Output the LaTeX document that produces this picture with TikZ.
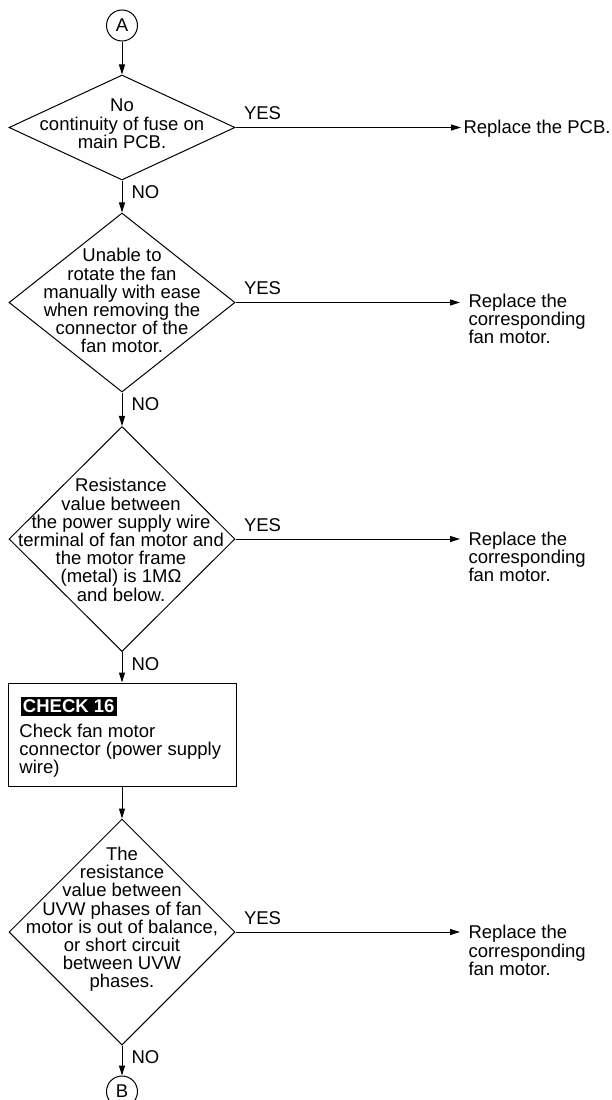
\documentclass[tikz,border=0pt]{standalone}
\usepackage{fontspec}
\setmainfont{Liberation Sans}
\usetikzlibrary{arrows.meta,shapes.geometric,positioning}

\begin{document}
\begin{tikzpicture}[x=1pt,y=-1pt,line width=1pt,
  txt/.style={font=\fontsize{18.5}{18.2}\selectfont,inner sep=0pt},
  dia/.style={draw,shape=diamond,minimum width=226pt,inner sep=0pt},
  conn/.style={draw,circle,minimum size=31pt,inner sep=0pt,font=\fontsize{18.5}{18.2}\selectfont},
  flow/.style={-{Triangle[length=10pt,width=6pt]}}]
  \useasboundingbox (0,0) rectangle (612,1100);

  \node[conn] (A) at (122,25.5) {A};
  \node[dia,minimum height=105pt] (d1) at (122,127.5) {};
  \node[dia,minimum height=179pt] (d2) at (122,302.5) {};
  \node[dia,minimum height=225pt] (d3) at (122,539) {};
  \node[draw,minimum width=228pt,minimum height=103pt,inner sep=0pt] (chk) at (122,734.5) {};
  \node[dia,minimum height=226pt] (d4) at (122,932) {};
  \node[conn] (B) at (122,1091.5) {B};

  \node[txt,align=center,anchor=north] (t1) at (122,98.6) {No\\continuity of fuse on\\main PCB.};
  \node[txt,align=center,anchor=north] (t2) at (122,248) {Unable to\\rotate the fan\\manually with ease\\when removing the\\connector of the\\fan motor.};
  \node[txt,align=center,anchor=north] (t3) at (121,478) {Resistance\\value between\\the power supply wire\\terminal of fan motor and\\the motor frame\\(metal) is 1MΩ\\and below.};
  \node[txt,align=center,anchor=north] (t4) at (122,846.5) {The\\resistance\\value between\\UVW phases of fan\\motor is out of balance,\\or short circuit\\between UVW\\phases.};

  \node[txt,fill=black,text=white,font=\fontsize{18.5}{18.2}\selectfont\bfseries,inner xsep=2.5pt,inner ysep=3pt,anchor=north west] (tag) at (20,696) {CHECK 16};
  \node[txt,align=left,anchor=north west] (chktxt) at (19,723.6) {Check fan motor\\connector (power supply\\wire)};

  \node[txt,anchor=north west] (r1) at (463,120) {Replace the PCB.};
  \node[txt,align=left,anchor=north west] (r2) at (468,293.3) {Replace the\\corresponding\\fan motor.};
  \node[txt,align=left,anchor=north west] (r3) at (468,531.6) {Replace the\\corresponding\\fan motor.};
  \node[txt,align=left,anchor=north west] (r4) at (468,925) {Replace the\\corresponding\\fan motor.};

  \node[txt,anchor=base west] (y1) at ([xshift=8pt,yshift=8pt]d1.east) {YES};
  \node[txt,anchor=base west] (y2) at ([xshift=8pt,yshift=8pt]d2.east) {YES};
  \node[txt,anchor=base west] (y3) at ([xshift=8pt,yshift=8pt]d3.east) {YES};
  \node[txt,anchor=base west] (y4) at ([xshift=8pt,yshift=8pt]d4.east) {YES};

  \node[txt,anchor=north west] (n1) at ([xshift=9pt,yshift=-5pt]d1.south) {NO};
  \node[txt,anchor=north west] (n2) at ([xshift=9pt,yshift=-5pt]d2.south) {NO};
  \node[txt,anchor=north west] (n3) at ([xshift=9pt,yshift=-5pt]d3.south) {NO};
  \node[txt,anchor=north west] (n4) at ([xshift=9pt,yshift=-5pt]d4.south) {NO};

  \draw[flow] (A) -- (d1);
  \draw[flow] (d1) -- (d2);
  \draw[flow] (d2) -- (d3);
  \draw[flow] (d3) -- (chk);
  \draw[flow] (chk) -- (d4);
  \draw[flow] (d4) -- (B);

  \draw[flow,shorten >=2pt] (d1.east) -- (d1.east -| r1.west);
  \draw[flow,shorten >=8pt] (d2.east) -- (d2.east -| r2.west);
  \draw[flow,shorten >=8pt] (d3.east) -- (d3.east -| r3.west);
  \draw[flow,shorten >=8pt] (d4.east) -- (d4.east -| r4.west);
\end{tikzpicture}
\end{document}
